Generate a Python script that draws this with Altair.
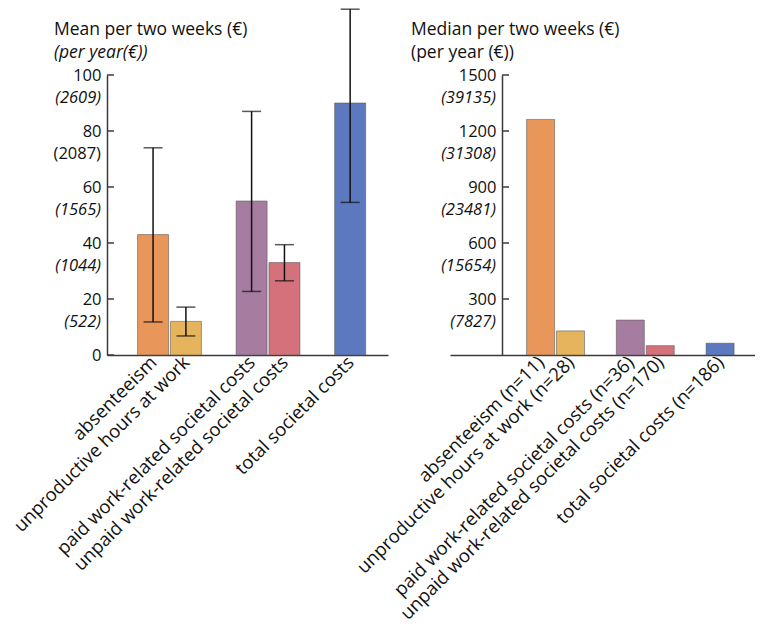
import altair as alt
import pandas as pd

FONT = "Open Sans"

categories = ["absenteeism", "unproductive hours at work", "paid work-related societal costs",
              "unpaid work-related societal costs", "total societal costs"]
n_counts = [11, 28, 36, 170, 186]
positions = [1, 2, 4, 5, 7]
colors = ["#E9965A", "#E7B45E", "#A67CA0", "#D5717B", "#5C78BE"]

mean_values = [43, 12, 55, 33, 90]
mean_low = [11.8, 6.8, 22.7, 26.5, 54.5]
mean_high = [74, 17.1, 87, 39.4, 123.5]

median_values = [1262, 129, 187, 50, 63]

mean_ticks = [0, 20, 40, 60, 80, 100]
mean_year_ticks = [20, 40, 60, 80, 100]
mean_year_labels = ["(522)", "(1044)", "(1565)", "(2087)", "(2609)"]
mean_year_upright = ["(2087)"]

median_ticks = [300, 600, 900, 1200, 1500]
median_year_labels = ["(7827)", "(15654)", "(23481)", "(31308)", "(39135)"]

AX = "#3a3a3a"
XFS = 18.5
YFS = 16.5
TFS = 17.5

df = pd.DataFrame({
    "cat": categories,
    "pos": positions,
    "mean": mean_values,
    "lo": mean_low,
    "hi": mean_high,
    "median": median_values,
    "catn": [f"{c} (n={n})" for c, n in zip(categories, n_counts)],
})


def label_expr(labels):
    expr = "''"
    for p, l in reversed(list(zip(positions, labels))):
        expr = f"datum.value == {p} ? '{l}' : ({expr})"
    return expr


color_enc = alt.Color("cat:N", scale=alt.Scale(domain=categories, range=colors), legend=None)


def x_axis(labels):
    return alt.Axis(values=positions, labelExpr=label_expr(labels), labelAngle=-45,
                    labelAlign="right", labelBaseline="middle", ticks=False, grid=False,
                    title=None, labelFontSize=XFS, labelFont=FONT, labelColor="#111",
                    labelPadding=4, domainColor=AX, domainWidth=1.5, labelOverlap=False,
                    labelLimit=0)


# ---------------- left panel: mean ----------------
xl = alt.Scale(domain=[-0.25, 8.0], nice=False, zero=False)
yl = alt.Scale(domain=[0, 100], nice=False)

base_l = alt.Chart(df)
bars_l = base_l.mark_bar(size=31, stroke="#555", strokeOpacity=0.55, strokeWidth=1).encode(
    x=alt.X("pos:Q", scale=xl, axis=x_axis(categories)),
    y=alt.Y("mean:Q", scale=yl, axis=alt.Axis(values=mean_ticks, title=None, ticks=False, grid=False,
                                               labelFontSize=YFS, labelFont=FONT, labelColor="#111",
                                               labelPadding=6, domainColor=AX, domainWidth=1.5,
                                               format="d")),
    color=color_enc,
)
err_l = base_l.mark_rule(color="#111", strokeWidth=1.5).encode(
    x="pos:Q", y=alt.Y("lo:Q", title=None), y2="hi:Q")
cap_lo = base_l.mark_tick(orient="horizontal", size=19, thickness=1.5, color="#111").encode(
    x="pos:Q", y=alt.Y("lo:Q", title=None))
cap_hi = base_l.mark_tick(orient="horizontal", size=19, thickness=1.5, color="#111").encode(
    x="pos:Q", y=alt.Y("hi:Q", title=None))

tick_df_l = pd.DataFrame({"val": mean_ticks})
ticks_l = alt.Chart(tick_df_l).mark_rule(color=AX, strokeWidth=1.5).encode(
    y=alt.Y("val:Q", title=None), x=alt.value(0), x2=alt.value(7))

year_df_l = pd.DataFrame({"val": mean_year_ticks, "lab": mean_year_labels})
year_df_l["upright"] = year_df_l["lab"].isin(mean_year_upright)
years_l_it = alt.Chart(year_df_l).transform_filter("!datum.upright").mark_text(
    align="right", baseline="middle", dy=23, fontSize=YFS, font=FONT, color="#111",
    fontStyle="italic").encode(y=alt.Y("val:Q", title=None), x=alt.value(-6), text="lab:N")
years_l_up = alt.Chart(year_df_l).transform_filter("datum.upright").mark_text(
    align="right", baseline="middle", dy=23, fontSize=YFS, font=FONT, color="#111").encode(
    y=alt.Y("val:Q", title=None), x=alt.value(-6), text="lab:N")

left = alt.layer(bars_l, err_l, cap_lo, cap_hi, ticks_l, years_l_it, years_l_up).properties(
    width=281, height=280,
    title=alt.Title("Mean per two weeks (€)", subtitle="(per year(€))", anchor="start", frame="group",
                    dx=-53, fontSize=TFS, subtitleFontSize=TFS, subtitleFontStyle="italic",
                    fontWeight="normal", font=FONT, subtitleFont=FONT, color="#111",
                    subtitleColor="#111", offset=-53, subtitlePadding=5),
)

# ---------------- right panel: median ----------------
xr = alt.Scale(domain=[-1.86, 8.0], nice=False, zero=False)
yr = alt.Scale(domain=[0, 1500], nice=False)
YOFF = 52

base_r = alt.Chart(df)
bars_r = base_r.mark_bar(size=28, stroke="#555", strokeOpacity=0.55, strokeWidth=1).encode(
    x=alt.X("pos:Q", scale=xr, axis=x_axis(df["catn"].tolist())),
    y=alt.Y("median:Q", scale=yr, axis=alt.Axis(values=median_ticks, title=None, ticks=False, grid=False,
                                                 labelFontSize=YFS, labelFont=FONT, labelColor="#111",
                                                 labelPadding=6, domainColor=AX, domainWidth=1.5,
                                                 offset=-YOFF, format="d")),
    color=color_enc,
)
tick_df_r = pd.DataFrame({"val": median_ticks})
ticks_r = alt.Chart(tick_df_r).mark_rule(color=AX, strokeWidth=1.5).encode(
    y=alt.Y("val:Q", title=None), x=alt.value(YOFF), x2=alt.value(YOFF + 7))
year_df_r = pd.DataFrame({"val": median_ticks, "lab": median_year_labels})
years_r = alt.Chart(year_df_r).mark_text(align="right", baseline="middle", dy=23, fontSize=YFS,
                                         font=FONT, color="#111", fontStyle="italic").encode(
    y=alt.Y("val:Q", title=None), x=alt.value(YOFF - 6), text="lab:N")

right = alt.layer(bars_r, ticks_r, years_r).properties(
    width=305, height=280,
    title=alt.Title("Median per two weeks (€)", subtitle="(per year (€))", anchor="start", frame="group",
                    dx=-39, fontSize=TFS, subtitleFontSize=TFS, fontWeight="normal", font=FONT,
                    subtitleFont=FONT, color="#111", subtitleColor="#111", offset=6, subtitlePadding=5),
)

chart = alt.hconcat(left, right, spacing=62, bounds="flush").properties(
    padding={"left": 2, "top": 0, "right": 0, "bottom": 0}
).configure(font=FONT, background="white").configure_view(stroke=None)

chart.save("out.html", embed_options={"renderer": "svg", "actions": False})
